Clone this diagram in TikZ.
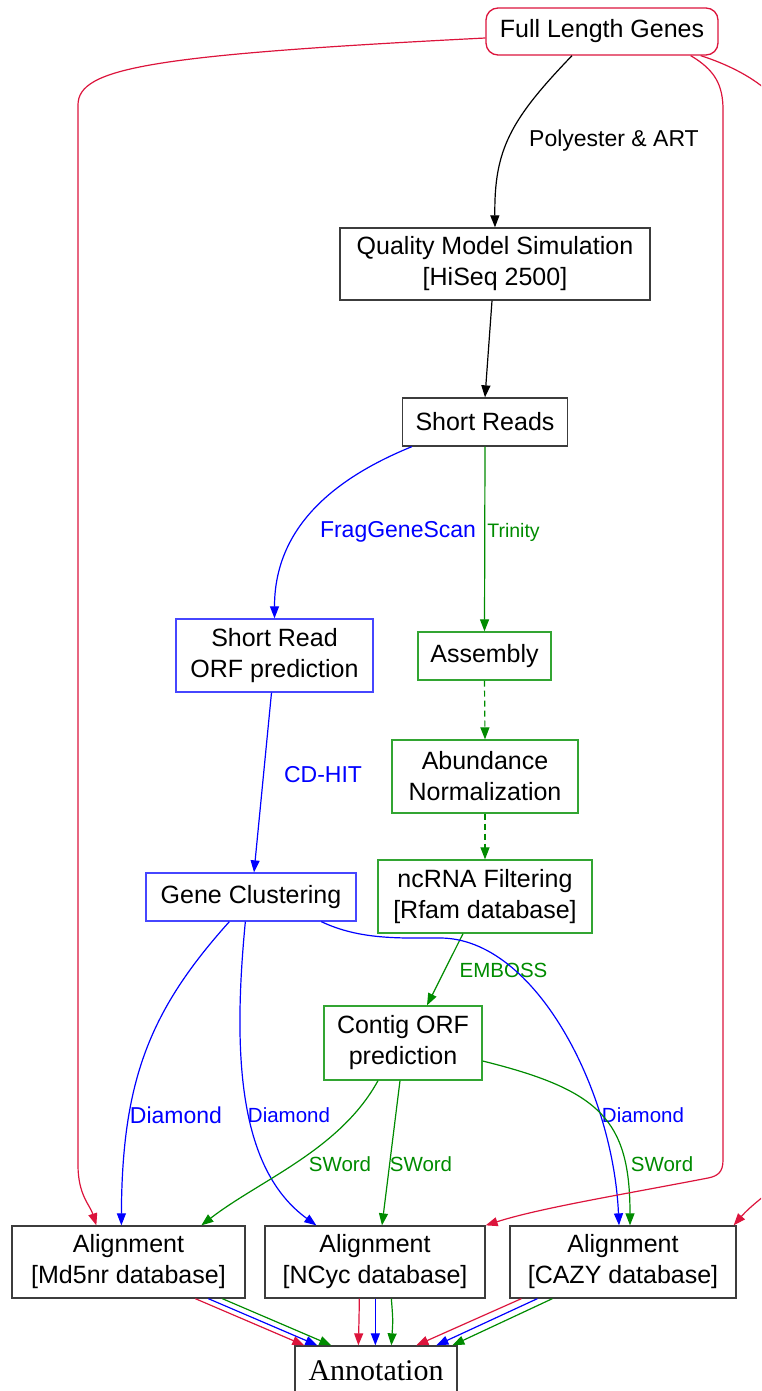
\documentclass[tikz,border=0pt]{standalone}
\usepackage{fontspec}
\setmainfont{Liberation Sans}
\newfontfamily\serifann{Liberation Serif}
\usetikzlibrary{arrows.meta,calc}
\definecolor{cred}{RGB}{220,20,60}
\definecolor{cblue}{RGB}{0,0,255}
\definecolor{cgreen}{RGB}{0,139,0}
\definecolor{bgreen}{RGB}{50,165,50}
\definecolor{bblue}{RGB}{70,70,255}
\definecolor{bgray}{RGB}{60,60,60}
\begin{document}
\begin{tikzpicture}[x=1pt,y=-1pt,
  box/.style={draw=bgray, line width=1.3pt, align=center, inner sep=0pt,
    font=\fontsize{25}{31}\selectfont, text=black},
  gbox/.style={box, draw=bgreen},
  bbox/.style={box, draw=bblue},
  rbox/.style={box, draw=cred, rounded corners=12pt},
  edge/.style={line width=1.2pt, -{Triangle[length=12pt,width=9pt]}},
  redge/.style={edge, color=cred},
  bedge/.style={edge, color=cblue},
  gedge/.style={edge, color=cgreen},
  kedge/.style={edge, color=black},
  dedge/.style={gedge, dash pattern=on 6pt off 4pt},
  lbl/.style={inner sep=0pt, font=\fontsize{23}{27}\selectfont},
  slbl/.style={inner sep=0pt, font=\fontsize{20.5}{24}\selectfont},
]
\path[use as bounding box, clip] (0,0) rectangle (761,1391);

% nodes
\node[rbox, minimum width=232pt, minimum height=47pt] (flg) at (602,31.5) {Full Length Genes};
\node[box, minimum width=310pt, minimum height=72pt] (qms) at (495,264) {Quality Model Simulation\\{[HiSeq 2500]}};
\node[box, minimum width=165pt, minimum height=48pt] (sr) at (485,422) {Short Reads};
\node[bbox, minimum width=197pt, minimum height=73pt] (srorf) at (274.5,655.5) {Short Read\\ORF prediction};
\node[gbox, minimum width=133pt, minimum height=48pt] (asm) at (484.5,656) {Assembly};
\node[gbox, minimum width=186pt, minimum height=73pt] (abn) at (485,776.5) {Abundance\\Normalization};
\node[gbox, minimum width=214pt, minimum height=73pt] (ncr) at (485,896.5) {ncRNA Filtering\\{[Rfam database]}};
\node[bbox, minimum width=210pt, minimum height=48pt] (gc) at (251,897) {Gene Clustering};
\node[gbox, minimum width=158pt, minimum height=74pt] (cor) at (403,1043) {Contig ORF\\prediction};
\node[box, minimum width=233pt, minimum height=72pt] (md5) at (128.5,1262) {Alignment\\{[Md5nr database]}};
\node[box, minimum width=220pt, minimum height=72pt] (ncy) at (375,1262) {Alignment\\{[NCyc database]}};
\node[box, minimum width=226pt, minimum height=72pt] (caz) at (623,1262) {Alignment\\{[CAZY database]}};
\node[box, minimum width=162pt, minimum height=50pt, font=\serifann\fontsize{30}{34}\selectfont] (ann) at (376,1371) {Annotation};

% black edges
\draw[kedge] ($(flg.south)+(-30,0)$) .. controls (510,120) and (494,150) .. (qms.north);
\node[lbl] (lpoly) at (614,141) {Polyester \& ART};
\draw[kedge] ($(qms.south)+(-3,0)$) -- (sr.north);

% short reads branches
\draw[bedge] ($(sr.south west)+(10,0)$) .. controls (330,480) and (274.5,530) .. (srorf.north);
\node[lbl, text=cblue] (lfgs) at (398,532) {FragGeneScan};
\draw[gedge] (sr.south) -- (asm.north);
\node[inner sep=0pt, font=\fontsize{19.5}{23}\selectfont, text=cgreen] (ltri) at (513.5,532) {Trinity};
\draw[dedge] (asm.south) -- (abn.north);
\draw[dedge] (abn.south) -- (ncr.north);

% blue chain
\draw[bedge] ($(srorf.south)+(-3,0)$) -- ($(gc.north)+(3,0)$);
\node[lbl, text=cblue] (lcdh) at (323,775) {CD-HIT};

% ncRNA -> contig
\draw[gedge] ($(ncr.south)+(-22,0)$) -- ($(cor.north)+(24,0)$);
\node[slbl, text=cgreen] (lemb) at (503.5,970) {EMBOSS};

% gene clustering -> alignments
\draw[bedge] ($(gc.south west)+(84,0)$) .. controls (150,1010) and (122,1080) .. ($(md5.north west)+(110,0)$);
\node[lbl, text=cblue] (ld1) at (176,1115) {Diamond};
\draw[bedge] ($(gc.south west)+(100,0)$) .. controls (232,1060) and (240,1170) .. ($(ncy.north west)+(52,0)$);
\node[slbl, text=cblue] (ld2) at (289,1115) {Diamond};
\draw[bedge] ($(gc.south west)+(176,0)$) .. controls (360,940) and (400,938) .. (440,938)
   .. controls (535,938) and (613,1090) .. ($(caz.north)+(-4,0)$);
\node[slbl, text=cblue] (ld3) at (643,1115) {Diamond};

% contig -> alignments
\draw[gedge] ($(cor.south)+(-25,0)$) .. controls (340,1150) and (260,1180) .. ($(md5.north west)+(190,0)$);
\node[slbl, text=cgreen] (ls1) at (340,1164) {SWord};
\draw[gedge] ($(cor.south)+(-3,0)$) -- ($(ncy.north)+(7,0)$);
\node[slbl, text=cgreen] (ls2) at (421,1164) {SWord};
\draw[gedge] ($(cor.east)+(0,18)$) .. controls (600,1090) and (630,1120) .. ($(caz.north)+(7,0)$);
\node[slbl, text=cgreen] (ls3) at (662,1164) {SWord};

% red edges from full length genes
\draw[redge] ($(flg.west)+(0,6.5)$) .. controls (150,55) and (78,68) .. (78,105)
   -- (78,1165) .. controls (78,1195) and (90,1205) .. ($(md5.north west)+(85,0)$);
\draw[redge] ($(flg.south east)+(-28,0)$) .. controls (715,70) and (723,85) .. (723,110)
   -- (723,1160) .. controls (723,1172) and (718,1176) .. (708,1178)
   .. controls (620,1195) and (540,1208) .. (ncy.north east);
\draw[redge] ($(flg.south east)+(-18,0)$) .. controls (730,65) and (790,90) .. (795,140)
   -- (795,1150) .. controls (795,1180) and (760,1195) .. ($(caz.north east)+(-3,0)$);

% alignments -> annotation
\draw[redge] ($(md5.south west)+(184,0)$) -- ($(ann.north west)+(10,0)$);
\draw[bedge] ($(md5.south west)+(197,0)$) -- ($(ann.north west)+(23,0)$);
\draw[gedge] ($(md5.south west)+(211,0)$) -- ($(ann.north west)+(37,0)$);
\draw[redge] ($(ncy.south west)+(95,0)$) .. controls (359,1320) .. ($(ann.north west)+(64,0)$);
\draw[bedge] ($(ncy.south west)+(111,0)$) -- ($(ann.north west)+(81,0)$);
\draw[gedge] ($(ncy.south west)+(127,0)$) .. controls (393,1320) .. ($(ann.north west)+(97,0)$);
\draw[redge] ($(caz.south west)+(12,0)$) -- ($(ann.north west)+(122,0)$);
\draw[bedge] ($(caz.south west)+(28,0)$) -- ($(ann.north west)+(142,0)$);
\draw[gedge] ($(caz.south west)+(43,0)$) -- ($(ann.north west)+(158,0)$);
\end{tikzpicture}
\end{document}
